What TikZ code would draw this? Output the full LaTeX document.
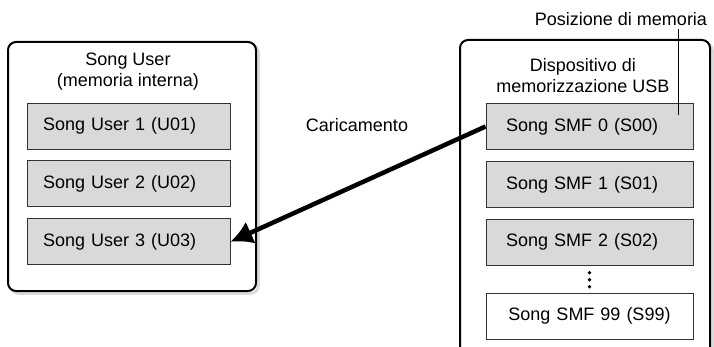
\documentclass[tikz,border=0pt]{standalone}
\usepackage{fontspec}
\setmainfont{Liberation Sans}
\usetikzlibrary{arrows.meta,positioning}

\begin{document}
\begin{tikzpicture}[x=1pt,y=-1pt,font=\fontsize{18}{21}\selectfont,
frame/.style={draw,line width=2pt,rounded corners=8pt,fill=white},
shade/.style={draw=black!15,line width=2.5pt,rounded corners=8pt},
slot/.style={draw=black!80,line width=0.9pt,fill=black!15,minimum height=46pt,inner ysep=0pt,align=left},
userslot/.style={slot,inner xsep=16pt,text width=171pt},
smfslot/.style={slot,inner xsep=20pt,text width=167pt},
emptyslot/.style={smfslot,fill=white,align=center},
load/.style={line width=4.5pt,-{Latex[length=22pt,width=24pt]}}]
\useasboundingbox (0,0) rectangle (714,347);
 % internal memory
 \draw[shade] (10.5,44.5) rectangle (258.5,293.5);
 \draw[frame] (8,42) rectangle (256,291);
 \node[align=center] (usertitle) at (128,72) {Song User\\(memoria interna)};
 \node[userslot] (user1) at (128.5,126) {Song User 1 (U01)};
 \foreach \i [remember=\i as \j (initially 1)] in {2,3}
 \node[userslot,below=11pt of user\j] (user\i) {Song User \i{} (U0\i)};
 % USB device, open at the bottom
 \draw[shade] (462.5,347) -- (462.5,42.5) -- (712.5,42.5) -- (712.5,347);
 \draw[frame] (460,347) -- (460,40) -- (710,40) -- (710,347);
 \node[align=center] (usbtitle) at (583,76) {Dispositivo di\\memorizzazione USB};
 \node[smfslot] (smf0) at (589.5,126.5) {Song SMF 0 (S00)};
 \foreach \i [remember=\i as \j (initially 0)] in {1,2}
 \node[smfslot,below=11pt of smf\j] (smf\i) {Song SMF \i{} (S0\i)};
 \foreach \k in {1,2,3}
 \fill (smf2.south) ++(0,7*\k) circle (1.8pt);
 \node[emptyslot,below=27pt of smf2] (smf99) {Song SMF 99 (S99)};
 % labels
 \node (posmem) at (621,19) {Posizione di memoria};
 \coordinate (pin) at (678,115);
 \draw[line width=0.8pt] (pin) -- (pin |- posmem.south);
 \node (loadlbl) at (357,125) {Caricamento};
 \draw[load] (smf0.west) -- (user3.east);
\end{tikzpicture}
\end{document}
